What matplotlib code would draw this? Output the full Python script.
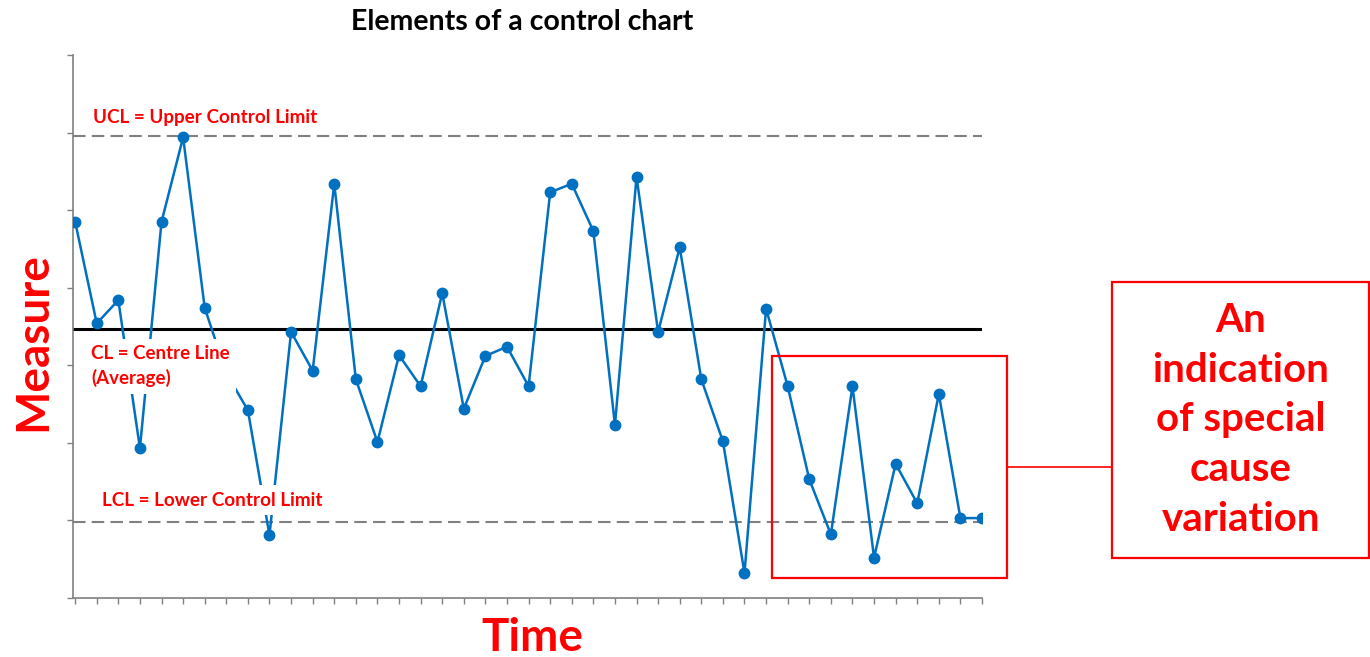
import matplotlib
matplotlib.use("Agg")
import matplotlib.pyplot as plt
from matplotlib.patches import Rectangle
from matplotlib.lines import Line2D

measure = [48.5, 35.4, 38.4, 19.3, 48.5, 59.4, 37.4, 29.0, 24.2, 8.1,
           34.3, 29.3, 53.4, 28.2, 20.1, 31.3, 27.3, 39.3, 24.4, 31.2,
           32.4, 27.3, 52.3, 53.4, 47.3, 22.3, 54.3, 34.3, 45.2, 28.2,
           20.2, 3.2, 37.3, 27.3, 15.3, 8.2, 27.3, 5.2, 17.3, 12.2,
           26.3, 10.3, 10.3]
time = list(range(len(measure)))

ucl = 59.6
cl = 34.7
lcl = 9.8

RED = "#FF0000"
BLUE = "#0070C0"
GREY = "#808080"
W, H = 1370, 657

plt.rcParams["font.family"] = ["Lato", "DejaVu Sans"]


def fx(x):
    return x / W


def fy(y):
    return 1 - y / H


fig = plt.figure(figsize=(W / 100, H / 100), dpi=100)
ax = fig.add_axes([fx(73), fy(598), (982 - 73) / W, (598 - 55) / H])

ax.axhline(ucl, color=GREY, lw=1.5, ls=(0, (6, 3)), zorder=1)
ax.axhline(lcl, color=GREY, lw=1.5, ls=(0, (6, 3)), zorder=1)
ax.axhline(cl, color="black", lw=2.2, zorder=2)
ax.plot(time, measure, color=BLUE, lw=1.8, marker="o", ms=7.5, zorder=3)

ax.set_xlim(-0.1, len(measure) - 1)
ax.set_ylim(0, 70)
ax.set_yticks(range(0, 71, 10))
ax.set_xticks(time)
ax.set_xticklabels([])
ax.set_yticklabels([])
ax.tick_params(axis="both", colors=GREY, length=4, width=1)
for side in ["top", "right"]:
    ax.spines[side].set_visible(False)
for side in ["left", "bottom"]:
    ax.spines[side].set_color(GREY)
    ax.spines[side].set_linewidth(1.2)

box = dict(boxstyle="square,pad=0.35", fc="white", ec="none")
ax.text(0.83, ucl + 2.4, "UCL = Upper Control Limit", color=RED,
        fontsize=13.6, fontweight="bold", va="center", ha="left", zorder=4)
ax.text(0.74, 29.9, "CL = Centre Line\n(Average)", color=RED,
        fontsize=13.5, fontweight="bold", va="center", ha="left",
        linespacing=1.45, bbox=box, zorder=4)
ax.text(1.25, lcl + 2.8, "LCL = Lower Control Limit", color=RED,
        fontsize=13.6, fontweight="bold", va="center", ha="left",
        bbox=box, zorder=4)

fig.text(fx(522), fy(22), "Elements of a control chart", fontsize=20.5,
         fontweight="bold", ha="center", va="center")
fig.text(fx(33), fy(342), "Measure", color=RED, fontsize=33,
         fontweight="bold", rotation=90, ha="center", va="center")
fig.text(fx(532), fy(638), "Time", color=RED, fontsize=33,
         fontweight="bold", ha="center", va="center")

# highlight of the last run of points and its callout
fig.patches.append(Rectangle((fx(772), fy(578)), (1007 - 772) / W,
                             (578 - 356) / H, transform=fig.transFigure,
                             fill=False, ec=RED, lw=1.6))
fig.lines.append(Line2D([fx(1007), fx(1112)], [fy(467), fy(467)],
                        transform=fig.transFigure, color=RED, lw=1.2))
fig.patches.append(Rectangle((fx(1112), fy(558)), (1369 - 1112) / W,
                             (558 - 282) / H, transform=fig.transFigure,
                             fill=False, ec=RED, lw=1.6))
fig.text(fx(1241), fy(420), "An\nindication\nof special\ncause\nvariation",
         color=RED, fontsize=29, fontweight="bold", ha="center",
         va="center", linespacing=1.43)

fig.savefig("out.png", dpi=100)
